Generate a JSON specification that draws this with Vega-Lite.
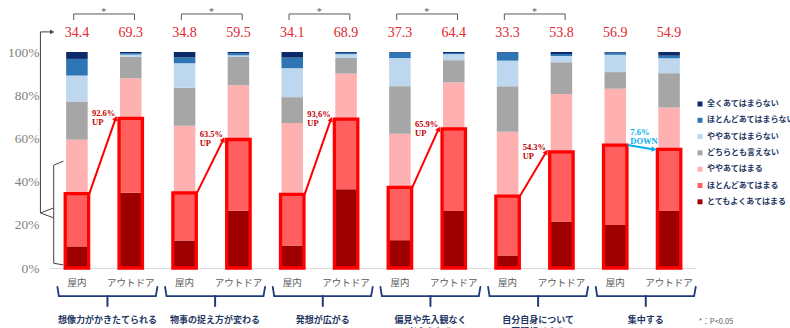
{
  "$schema": "https://vega.github.io/schema/vega-lite/v6.json",
  "width": 646,
  "height": 216,
  "autosize": {"type": "none"},
  "padding": {"left": 50, "top": 52, "right": 94, "bottom": 60},
  "background": "white",
  "config": {"view": {"stroke": null}, "font": "Noto Sans CJK JP"},
  "datasets": {
    "bars": [
      {"bar": "想像力がかきたてられる|屋内", "top2": 34.4, "とてもよくあてはまる": 10.0, "ほとんどあてはまる": 24.4, "ややあてはまる": 25.0, "どちらとも言えない": 17.7, "ややあてはまらない": 12.0, "ほとんどあてはまらない": 7.7, "全くあてはまらない": 3.2},
      {"bar": "想像力がかきたてられる|アウトドア", "top2": 69.3, "とてもよくあてはまる": 34.8, "ほとんどあてはまる": 34.5, "ややあてはまる": 18.5, "どちらとも言えない": 10.0, "ややあてはまらない": 1.0, "ほとんどあてはまらない": 0.7, "全くあてはまらない": 0.5},
      {"bar": "物事の捉え方が変わる|屋内", "top2": 34.8, "とてもよくあてはまる": 12.7, "ほとんどあてはまる": 22.1, "ややあてはまる": 31.1, "どちらとも言えない": 17.6, "ややあてはまらない": 11.3, "ほとんどあてはまらない": 2.6, "全くあてはまらない": 2.6},
      {"bar": "物事の捉え方が変わる|アウトドア", "top2": 59.5, "とてもよくあてはまる": 26.5, "ほとんどあてはまる": 33.0, "ややあてはまる": 25.1, "どちらとも言えない": 13.1, "ややあてはまらない": 0.8, "ほとんどあてはまらない": 1.0, "全くあてはまらない": 0.5},
      {"bar": "発想が広がる|屋内", "top2": 34.1, "とてもよくあてはまる": 10.4, "ほとんどあてはまる": 23.7, "ややあてはまる": 33.0, "どちらとも言えない": 12.0, "ややあてはまらない": 13.4, "ほとんどあてはまらない": 4.9, "全くあてはまらない": 2.6},
      {"bar": "発想が広がる|アウトドア", "top2": 68.9, "とてもよくあてはまる": 36.5, "ほとんどあてはまる": 32.4, "ややあてはまる": 21.1, "どちらとも言えない": 7.3, "ややあてはまらない": 1.7, "ほとんどあてはまらない": 0.6, "全くあてはまらない": 0.4},
      {"bar": "偏見や先入観なく考えられる|屋内", "top2": 37.3, "とてもよくあてはまる": 12.9, "ほとんどあてはまる": 24.4, "ややあてはまる": 24.8, "どちらとも言えない": 22.1, "ややあてはまらない": 13.0, "ほとんどあてはまらない": 2.5, "全くあてはまらない": 0.3},
      {"bar": "偏見や先入観なく考えられる|アウトドア", "top2": 64.4, "とてもよくあてはまる": 26.4, "ほとんどあてはまる": 38.0, "ややあてはまる": 21.5, "どちらとも言えない": 10.3, "ややあてはまらない": 2.8, "ほとんどあてはまらない": 0.5, "全くあてはまらない": 0.5},
      {"bar": "自分自身について客観視できる|屋内", "top2": 33.3, "とてもよくあてはまる": 5.8, "ほとんどあてはまる": 27.5, "ややあてはまる": 29.8, "どちらとも言えない": 21.0, "ややあてはまらない": 11.9, "ほとんどあてはまらない": 3.7, "全くあてはまらない": 0.3},
      {"bar": "自分自身について客観視できる|アウトドア", "top2": 53.8, "とてもよくあてはまる": 21.5, "ほとんどあてはまる": 32.3, "ややあてはまる": 26.7, "どちらとも言えない": 14.8, "ややあてはまらない": 2.9, "ほとんどあてはまらない": 0.9, "全くあてはまらない": 0.9},
      {"bar": "集中する|屋内", "top2": 56.9, "とてもよくあてはまる": 19.9, "ほとんどあてはまる": 37.0, "ややあてはまる": 26.1, "どちらとも言えない": 7.7, "ややあてはまらない": 8.0, "ほとんどあてはまらない": 1.0, "全くあてはまらない": 0.3},
      {"bar": "集中する|アウトドア", "top2": 54.9, "とてもよくあてはまる": 26.4, "ほとんどあてはまる": 28.5, "ややあてはまる": 19.4, "どちらとも言えない": 15.9, "ややあてはまらない": 6.9, "ほとんどあてはまらない": 1.2, "全くあてはまらない": 1.7}
    ],
    "pairs": [
      {"label": "想像力がかきたてられる", "b1": "想像力がかきたてられる|屋内", "b2": "想像力がかきたてられる|アウトドア", "indoor": 34.4, "outdoor": 69.3, "note": "92.6%\nUP", "dir": "UP", "sig": "*"},
      {"label": "物事の捉え方が変わる", "b1": "物事の捉え方が変わる|屋内", "b2": "物事の捉え方が変わる|アウトドア", "indoor": 34.8, "outdoor": 59.5, "note": "63.5%\nUP", "dir": "UP", "sig": "*"},
      {"label": "発想が広がる", "b1": "発想が広がる|屋内", "b2": "発想が広がる|アウトドア", "indoor": 34.1, "outdoor": 68.9, "note": "93,6%\nUP", "dir": "UP", "sig": "*"},
      {"label": "偏見や先入観なく\n考えられる", "b1": "偏見や先入観なく考えられる|屋内", "b2": "偏見や先入観なく考えられる|アウトドア", "indoor": 37.3, "outdoor": 64.4, "note": "65.9%\nUP", "dir": "UP", "sig": "*"},
      {"label": "自分自身について\n客観視できる", "b1": "自分自身について客観視できる|屋内", "b2": "自分自身について客観視できる|アウトドア", "indoor": 33.3, "outdoor": 53.8, "note": "54.3%\nUP", "dir": "UP", "sig": "*"},
      {"label": "集中する", "b1": "集中する|屋内", "b2": "集中する|アウトドア", "indoor": 56.9, "outdoor": 54.9, "note": "7.6%\nDOWN", "dir": "DOWN", "sig": ""}
    ],
    "decor": [
      {"k": "想像力がかきたてられる|屋内", "last": "集中する|アウトドア", "note": "*：P<0.05"}
    ]
  },
  "layer": [
    {
      "data": {"name": "bars"},
      "transform": [
        {"fold": ["とてもよくあてはまる", "ほとんどあてはまる", "ややあてはまる", "どちらとも言えない", "ややあてはまらない", "ほとんどあてはまらない", "全くあてはまらない"], "as": ["cat", "value"]},
        {"window": [{"op": "row_number", "as": "rank"}], "groupby": ["bar"]}
      ],
      "mark": {"type": "bar", "width": {"band": 0.4}},
      "encoding": {
        "x": {
          "field": "bar", "type": "nominal",
          "scale": {"domain": ["想像力がかきたてられる|屋内", "想像力がかきたてられる|アウトドア", "物事の捉え方が変わる|屋内", "物事の捉え方が変わる|アウトドア", "発想が広がる|屋内", "発想が広がる|アウトドア", "偏見や先入観なく考えられる|屋内", "偏見や先入観なく考えられる|アウトドア", "自分自身について客観視できる|屋内", "自分自身について客観視できる|アウトドア", "集中する|屋内", "集中する|アウトドア"], "paddingInner": 0, "paddingOuter": 0},
          "axis": {"title": null, "labelExpr": "split(datum.label, '|')[1]", "labelAngle": 0, "ticks": false, "domainColor": "#d9d9d9", "labelFont": "Noto Sans CJK JP", "labelFontSize": 9.5, "labelColor": "#595959", "labelPadding": 9}
        },
        "y": {
          "field": "value", "type": "quantitative", "stack": "zero",
          "scale": {"domain": [0, 100], "nice": false},
          "axis": {"title": null, "values": [0, 20, 40, 60, 80, 100], "labelExpr": "datum.value + '%'", "domain": false, "ticks": false, "grid": false, "labelFont": "Liberation Serif", "labelFontSize": 13.5, "labelColor": "#7f7f7f", "labelPadding": 11}
        },
        "order": {"field": "rank", "type": "quantitative"},
        "color": {
          "field": "cat", "type": "nominal",
          "scale": {"domain": ["とてもよくあてはまる", "ほとんどあてはまる", "ややあてはまる", "どちらとも言えない", "ややあてはまらない", "ほとんどあてはまらない", "全くあてはまらない"], "range": ["#9e0000", "#ff5f5f", "#ffb1b1", "#a6a6a6", "#bdd7ee", "#2e75b6", "#0c2a6a"]},
          "legend": {"title": null, "orient": "none", "legendX": 646, "legendY": 48, "values": ["全くあてはまらない", "ほとんどあてはまらない", "ややあてはまらない", "どちらとも言えない", "ややあてはまる", "ほとんどあてはまる", "とてもよくあてはまる"], "symbolType": "square", "symbolSize": 25, "symbolStrokeWidth": 0, "labelFont": "Noto Sans CJK JP", "labelFontSize": 8, "labelFontWeight": "bold", "labelColor": "#1f3864", "rowPadding": 8.3, "labelOffset": 3, "padding": 0, "labelLimit": 200}
        }
      }
    },
    {
      "data": {"name": "bars"},
      "mark": {"type": "bar", "width": {"band": 0.435}, "fill": "transparent", "stroke": "#ff0000", "strokeWidth": 3.3},
      "encoding": {
        "x": {"field": "bar", "type": "nominal"},
        "y": {"field": "top2", "type": "quantitative"}
      }
    },
    {
      "data": {"name": "bars"},
      "mark": {"type": "text", "font": "Liberation Serif", "fontSize": 14, "color": "#e0262e", "baseline": "middle"},
      "encoding": {
        "x": {"field": "bar", "type": "nominal"},
        "y": {"datum": 108.8},
        "text": {"field": "top2", "type": "quantitative", "format": ".1f"}
      }
    },
    {
      "data": {"name": "pairs"},
      "transform": [{"filter": "datum.sig === '*'"}],
      "mark": {"type": "rule", "color": "#595959", "strokeWidth": 1},
      "encoding": {
        "x": {"field": "b1", "type": "nominal", "bandPosition": 0.44},
        "x2": {"field": "b2", "bandPosition": 0.57},
        "y": {"datum": 117.6}
      }
    },
    {
      "data": {"name": "pairs"},
      "transform": [{"filter": "datum.sig === '*'"}],
      "mark": {"type": "rule", "color": "#595959", "strokeWidth": 1},
      "encoding": {
        "x": {"field": "b1", "type": "nominal", "bandPosition": 0.44},
        "y": {"datum": 114.8},
        "y2": {"datum": 117.6}
      }
    },
    {
      "data": {"name": "pairs"},
      "transform": [{"filter": "datum.sig === '*'"}],
      "mark": {"type": "rule", "color": "#595959", "strokeWidth": 1},
      "encoding": {
        "x": {"field": "b2", "type": "nominal", "bandPosition": 0.57},
        "y": {"datum": 114.8},
        "y2": {"datum": 117.6}
      }
    },
    {
      "data": {"name": "pairs"},
      "transform": [{"filter": "datum.sig === '*'"}],
      "mark": {"type": "text", "font": "Liberation Serif", "fontSize": 10, "color": "#595959", "baseline": "middle", "dy": 2},
      "encoding": {
        "x": {"field": "b2", "type": "nominal", "bandPosition": 0.0},
        "y": {"datum": 119.4},
        "text": {"field": "sig"}
      }
    },
    {
      "data": {"name": "pairs"},
      "mark": {"type": "rule", "strokeWidth": 2},
      "encoding": {
        "x": {"field": "b1", "type": "nominal", "bandPosition": 0.73},
        "x2": {"field": "b2", "bandPosition": 0.22},
        "y": {"field": "indoor", "type": "quantitative"},
        "y2": {"field": "outdoor"},
        "color": {"condition": {"test": "datum.dir === 'DOWN'", "value": "#00b0f0"}, "value": "#ff0000"}
      }
    },
    {
      "data": {"name": "pairs"},
      "mark": {"type": "point", "shape": "triangle-up", "filled": true, "size": 32, "opacity": 1, "angle": {"expr": "atan2(0.51 * bandwidth('x'), scale('y', datum.indoor) - scale('y', datum.outdoor)) * 180 / PI"}},
      "encoding": {
        "x": {"field": "b2", "type": "nominal", "bandPosition": 0.22},
        "y": {"field": "outdoor", "type": "quantitative"},
        "color": {"condition": {"test": "datum.dir === 'DOWN'", "value": "#00b0f0"}, "value": "#ff0000"}
      }
    },
    {
      "data": {"name": "pairs"},
      "transform": [{"filter": "datum.dir === 'UP'"}],
      "mark": {"type": "text", "align": "left", "baseline": "bottom", "lineBreak": "\n", "font": "Liberation Serif", "fontWeight": "bold", "fontSize": 8.5, "lineHeight": 9, "color": "#c00000"},
      "encoding": {
        "x": {"field": "b1", "type": "nominal", "bandPosition": 0.78},
        "y": {"field": "outdoor", "type": "quantitative"},
        "text": {"field": "note"}
      }
    },
    {
      "data": {"name": "pairs"},
      "transform": [{"filter": "datum.dir === 'DOWN'"}],
      "mark": {"type": "text", "align": "left", "baseline": "bottom", "lineBreak": "\n", "font": "Liberation Serif", "fontWeight": "bold", "fontSize": 8.5, "lineHeight": 9, "color": "#00b0f0", "dy": -8},
      "encoding": {
        "x": {"field": "b1", "type": "nominal", "bandPosition": 0.78},
        "y": {"field": "indoor", "type": "quantitative"},
        "text": {"field": "note"}
      }
    },
    {
      "data": {"name": "pairs"},
      "mark": {"type": "rule", "color": "#1f3c7a", "strokeWidth": 1.8, "strokeCap": "round"},
      "encoding": {
        "x": {"field": "b1", "type": "nominal", "bandPosition": 0.165},
        "x2": {"field": "b2", "bandPosition": 0.965},
        "y": {"datum": -13}
      }
    },
    {
      "data": {"name": "pairs"},
      "mark": {"type": "rule", "color": "#1f3c7a", "strokeWidth": 1.8, "strokeCap": "round"},
      "encoding": {
        "x": {"field": "b1", "type": "nominal", "bandPosition": 0.138},
        "x2": {"field": "b1", "bandPosition": 0.165},
        "y": {"datum": -8.8},
        "y2": {"datum": -13}
      }
    },
    {
      "data": {"name": "pairs"},
      "mark": {"type": "rule", "color": "#1f3c7a", "strokeWidth": 1.8, "strokeCap": "round"},
      "encoding": {
        "x": {"field": "b2", "type": "nominal", "bandPosition": 0.965},
        "x2": {"field": "b2", "bandPosition": 0.995},
        "y": {"datum": -13},
        "y2": {"datum": -8.8}
      }
    },
    {
      "data": {"name": "pairs"},
      "mark": {"type": "rule", "color": "#1f3c7a", "strokeWidth": 2, "strokeCap": "round"},
      "encoding": {
        "x": {"field": "b2", "type": "nominal", "bandPosition": 0.067},
        "y": {"datum": -13},
        "y2": {"datum": -17.6}
      }
    },
    {
      "data": {"name": "pairs"},
      "mark": {"type": "text", "align": "center", "baseline": "middle", "lineBreak": "\n", "font": "Noto Sans CJK JP", "fontWeight": "bold", "fontSize": 9, "lineHeight": 11.5, "color": "#1f3864"},
      "encoding": {
        "x": {"field": "b2", "type": "nominal", "bandPosition": 0.067},
        "y": {"datum": -24.1},
        "text": {"field": "label"}
      }
    },
    {
      "data": {"name": "decor"},
      "mark": {"type": "rule", "color": "#404040", "strokeWidth": 1},
      "encoding": {
        "x": {"field": "k", "type": "nominal", "bandPosition": -0.178},
        "y": {"datum": 25.5},
        "y2": {"datum": 109.3}
      }
    },
    {
      "data": {"name": "decor"},
      "mark": {"type": "rule", "color": "#404040", "strokeWidth": 1},
      "encoding": {
        "x": {"field": "k", "type": "nominal", "bandPosition": -0.178},
        "x2": {"field": "k", "bandPosition": 0.02},
        "y": {"datum": 109.3}
      }
    },
    {
      "data": {"name": "decor"},
      "mark": {"type": "point", "shape": "triangle-right", "filled": true, "size": 22, "color": "#404040", "opacity": 1},
      "encoding": {
        "x": {"field": "k", "type": "nominal", "bandPosition": 0.04},
        "y": {"datum": 109.3}
      }
    },
    {
      "data": {"name": "decor"},
      "mark": {"type": "rule", "color": "#404040", "strokeWidth": 1},
      "encoding": {
        "x": {"field": "k", "type": "nominal", "bandPosition": 0.069},
        "y": {"datum": 2.2},
        "y2": {"datum": 47.6}
      }
    },
    {
      "data": {"name": "decor"},
      "mark": {"type": "rule", "color": "#404040", "strokeWidth": 1},
      "encoding": {
        "x": {"field": "k", "type": "nominal", "bandPosition": 0.069},
        "x2": {"field": "k", "bandPosition": 0.25},
        "y": {"datum": 47.6},
        "y2": {"datum": 49.5}
      }
    },
    {
      "data": {"name": "decor"},
      "mark": {"type": "rule", "color": "#404040", "strokeWidth": 1},
      "encoding": {
        "x": {"field": "k", "type": "nominal", "bandPosition": 0.069},
        "x2": {"field": "k", "bandPosition": 0.25},
        "y": {"datum": 2.2},
        "y2": {"datum": 1.4}
      }
    },
    {
      "data": {"name": "decor"},
      "mark": {"type": "rule", "color": "#404040", "strokeWidth": 1},
      "encoding": {
        "x": {"field": "k", "type": "nominal", "bandPosition": 0.069},
        "x2": {"field": "k", "bandPosition": -0.178},
        "y": {"datum": 27.8},
        "y2": {"datum": 25.5}
      }
    },
    {
      "data": {"name": "decor"},
      "mark": {"type": "rule", "color": "#404040", "strokeWidth": 1},
      "encoding": {
        "x": {"field": "k", "type": "nominal", "bandPosition": 0.069},
        "x2": {"field": "k", "bandPosition": -0.178},
        "y": {"datum": 23.2},
        "y2": {"datum": 25.5}
      }
    },
    {
      "data": {"name": "decor"},
      "mark": {"type": "text", "align": "left", "baseline": "middle", "font": "Noto Sans CJK JP", "fontSize": 7.5, "color": "#595959"},
      "encoding": {
        "x": {"field": "last", "type": "nominal", "bandPosition": 1.052},
        "y": {"datum": -25},
        "text": {"field": "note"}
      }
    }
  ]
}
